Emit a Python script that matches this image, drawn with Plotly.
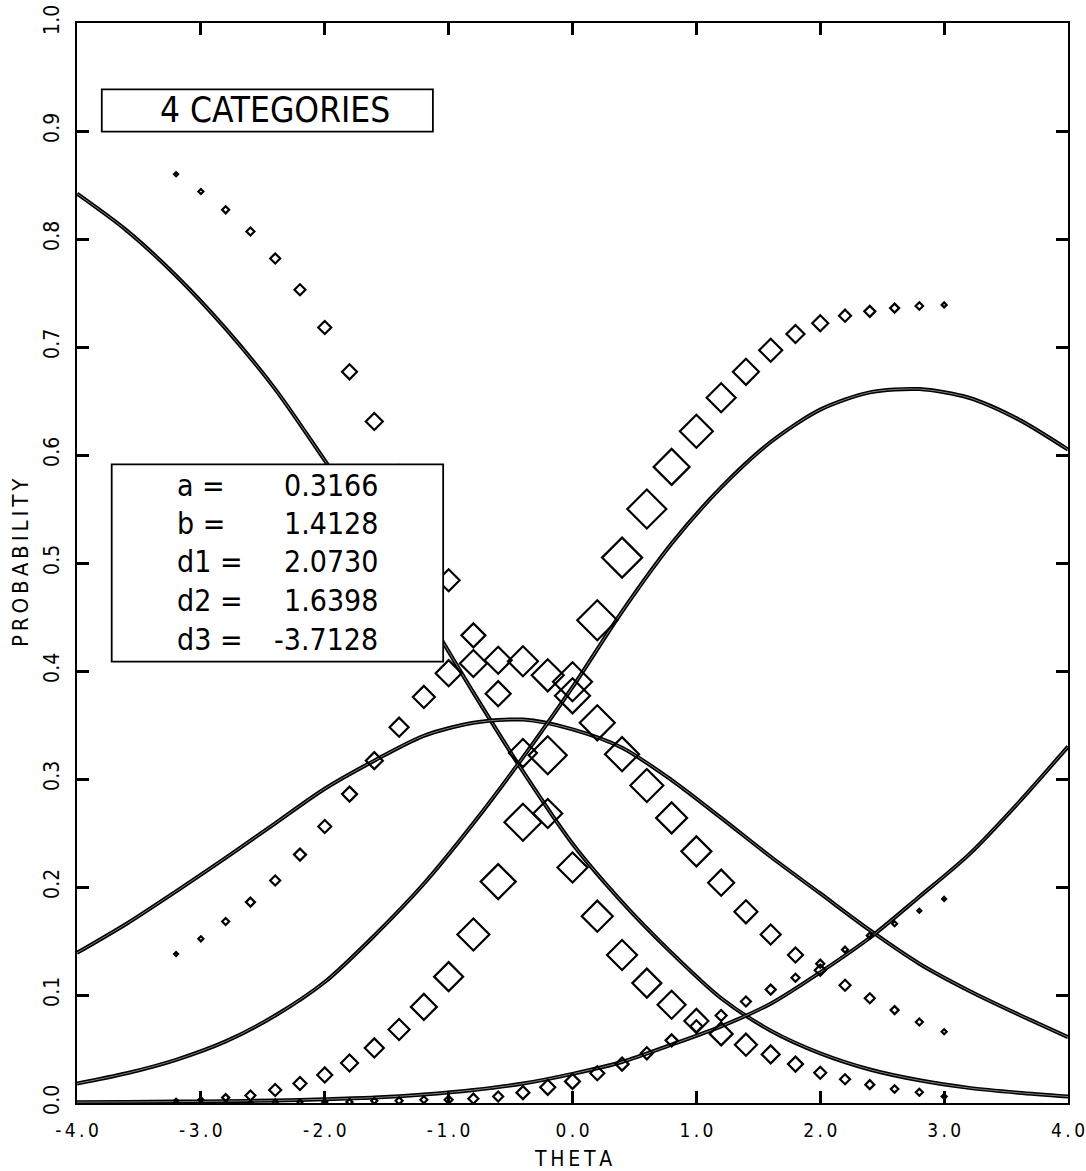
import plotly.graph_objects as go

# ---------------- data ----------------
THETA_CURVE = [-4.0, -3.6, -3.2, -2.8, -2.4, -2.0, -1.6, -1.2, -0.8, -0.4, 0.0,
               0.4, 0.8, 1.2, 1.6, 2.0, 2.4, 2.8, 3.2, 3.6, 4.0]
CURVE_CAT1 = [0.842, 0.808, 0.766, 0.717, 0.661, 0.595, 0.528, 0.456, 0.380, 0.307, 0.240,
              0.186, 0.139, 0.097, 0.067, 0.046, 0.031, 0.021, 0.014, 0.0095, 0.006]
CURVE_CAT2 = [0.139, 0.166, 0.196, 0.227, 0.259, 0.291, 0.317, 0.340, 0.352, 0.355, 0.346,
              0.329, 0.299, 0.264, 0.228, 0.194, 0.160, 0.129, 0.104, 0.082, 0.061]
CURVE_CAT3 = [0.018, 0.0275, 0.040, 0.057, 0.081, 0.112, 0.155, 0.203, 0.259, 0.320, 0.385,
              0.455, 0.518, 0.570, 0.612, 0.642, 0.658, 0.661, 0.653, 0.633, 0.605]
CURVE_CAT4 = [0.0008, 0.001, 0.0013, 0.0017, 0.0023, 0.0035, 0.005, 0.0078, 0.012, 0.018, 0.027,
              0.038, 0.054, 0.071, 0.092, 0.121, 0.153, 0.191, 0.230, 0.278, 0.330]

THETA_OBS = [-3.2, -3.0, -2.8, -2.6, -2.4, -2.2, -2.0, -1.8, -1.6, -1.4, -1.2, -1.0,
             -0.8, -0.6, -0.4, -0.2, 0.0, 0.2, 0.4, 0.6, 0.8, 1.0, 1.2, 1.4,
             1.6, 1.8, 2.0, 2.2, 2.4, 2.6, 2.8, 3.0]
OBS_CAT1 = [0.860, 0.844, 0.827, 0.807, 0.782, 0.753, 0.718, 0.677, 0.631, 0.582, 0.533, 0.484,
            0.433, 0.379, 0.324, 0.268, 0.218, 0.173, 0.137, 0.111, 0.091, 0.076, 0.064, 0.054,
            0.045, 0.036, 0.028, 0.022, 0.017, 0.013, 0.010, 0.006]
OBS_CAT2 = [0.138, 0.152, 0.168, 0.186, 0.206, 0.230, 0.256, 0.286, 0.317, 0.348, 0.376, 0.398,
            0.407, 0.410, 0.409, 0.396, 0.377, 0.352, 0.323, 0.294, 0.264, 0.233, 0.204, 0.177,
            0.156, 0.137, 0.123, 0.109, 0.097, 0.086, 0.075, 0.066]
OBS_CAT3 = [0.002, 0.003, 0.005, 0.007, 0.012, 0.018, 0.026, 0.037, 0.051, 0.068, 0.089, 0.117,
            0.156, 0.205, 0.260, 0.322, 0.390, 0.447, 0.505, 0.550, 0.589, 0.622, 0.653, 0.677,
            0.697, 0.712, 0.722, 0.729, 0.733, 0.736, 0.738, 0.739]
OBS_CAT4 = [0.000, 0.000, 0.000, 0.000, 0.001, 0.001, 0.001, 0.001, 0.002, 0.002, 0.003, 0.003,
            0.004, 0.006, 0.0096, 0.0145, 0.020, 0.0275, 0.036, 0.046, 0.058, 0.071, 0.081, 0.094,
            0.105, 0.116, 0.129, 0.142, 0.155, 0.166, 0.178, 0.189]

# apparent marker widths (px) per observed point
WIDTH_CAT1 = [4, 5, 7, 8, 10, 11, 13, 15, 17, 19, 21, 22, 24, 25, 28, 29, 30, 31, 30, 29, 28, 24,
              23, 22, 18, 15, 12, 10, 9, 7.5, 7, 5]
WIDTH_CAT2 = [4, 5, 7, 9, 10, 12, 13, 15, 17, 19, 22, 26, 27, 27, 30, 32, 35, 35, 34, 33, 31, 30,
              26, 23, 20, 15, 11, 11, 10, 8, 7, 5]
WIDTH_CAT3 = [4, 5, 7, 10, 12, 13, 15, 17, 19, 21, 26, 29, 32, 35, 37, 38, 39, 40, 40, 39, 36, 33,
              29, 26, 23, 18, 16, 12, 11, 9, 7.5, 5]
WIDTH_CAT4 = [4, 4, 4, 5, 5, 5, 5, 6, 6, 7, 7, 8, 10, 10, 13, 15, 15, 14, 13, 12, 12, 12,
              11, 10, 10, 8, 8, 6, 6, 5, 4, 4]

X_TICKS = [-4, -3, -2, -1, 0, 1, 2, 3, 4]
X_TICK_LABELS = ["-4.0", "-3.0", "-2.0", "-1.0", "0.0", "1.0", "2.0", "3.0", "4.0"]
Y_TICKS = [0.0, 0.1, 0.2, 0.3, 0.4, 0.5, 0.6, 0.7, 0.8, 0.9, 1.0]
Y_TICK_LABELS = ["0.0", "0.1", "0.2", "0.3", "0.4", "0.5", "0.6", "0.7", "0.8", "0.9", "1.0"]

TITLE_BOX_TEXT = "4 CATEGORIES"
PARAM_NAMES = ["a =", "b =", "d1 =", "d2 =", "d3 ="]
PARAM_VALUES = ["0.3166", "1.4128", "2.0730", "1.6398", "-3.7128"]

X_TITLE = "THETA"
Y_TITLE = "PROBABILITY"

# ---------------- figure ----------------
FONT = "Liberation Sans Narrow, DejaVu Sans Condensed, Arial Narrow, Roboto, sans-serif"
THIN = "\u2009"

fig = go.Figure()

for curve in (CURVE_CAT1, CURVE_CAT2, CURVE_CAT3, CURVE_CAT4):
    fig.add_trace(go.Scatter(x=THETA_CURVE, y=curve, mode="lines",
                             line=dict(color="black", width=4.0, shape="spline", smoothing=0.8),
                             hoverinfo="skip", showlegend=False))
    fig.add_trace(go.Scatter(x=THETA_CURVE, y=curve, mode="lines",
                             line=dict(color="rgba(255,255,255,0.5)", width=1.0,
                                       shape="spline", smoothing=0.8),
                             hoverinfo="skip", showlegend=False))

for obs, widths in ((OBS_CAT1, WIDTH_CAT1), (OBS_CAT2, WIDTH_CAT2),
                    (OBS_CAT3, WIDTH_CAT3), (OBS_CAT4, WIDTH_CAT4)):
    fig.add_trace(go.Scatter(x=THETA_OBS, y=obs, mode="markers",
                             marker=dict(symbol="diamond-open", color="black", opacity=1,
                                         size=[w / 1.3 for w in widths],
                                         line=dict(color="black", width=2.2)),
                             showlegend=False))

# boxes
fig.add_shape(type="rect", xref="x", yref="y", x0=-3.80, x1=-1.127, y0=0.8995, y1=0.9386,
              line=dict(color="black", width=1.8), fillcolor="white", layer="above")
fig.add_shape(type="rect", xref="x", yref="y", x0=-3.72, x1=-1.044, y0=0.4086, y1=0.5914,
              line=dict(color="black", width=1.8), fillcolor="white", layer="above")

fig.add_annotation(x=-2.40, y=0.919, xref="x", yref="y", text=TITLE_BOX_TEXT, showarrow=False,
                   xanchor="center", yanchor="middle",
                   font=dict(family=FONT, size=35, color="black"))

row_y = [0.572, 0.537, 0.501, 0.465, 0.429]
for name, val, yy in zip(PARAM_NAMES, PARAM_VALUES, row_y):
    fig.add_annotation(x=-3.209, y=yy, xref="x", yref="y", text=name, showarrow=False,
                       xanchor="left", yanchor="middle",
                       font=dict(family=FONT, size=30, color="black"))
    fig.add_annotation(x=-1.557, y=yy, xref="x", yref="y", text=val, showarrow=False,
                       xanchor="right", yanchor="middle",
                       font=dict(family=FONT, size=30, color="black"))

# axis titles
fig.add_annotation(x=0.5005, y=-0.052, xref="paper", yref="paper", text=THIN.join(X_TITLE),
                   showarrow=False, xanchor="center", yanchor="middle",
                   font=dict(family=FONT, size=21, color="black"))
fig.add_annotation(x=-0.0575, y=0.5, xref="paper", yref="paper", text=THIN.join(Y_TITLE),
                   showarrow=False, xanchor="center", yanchor="middle", textangle=-90,
                   font=dict(family=FONT, size=22, color="black"))

spaced_x = [THIN.join(t) for t in X_TICK_LABELS]

fig.update_xaxes(range=[-4, 4], tickmode="array", tickvals=X_TICKS, ticktext=spaced_x,
                 ticks="inside", ticklen=12, tickwidth=2.5, tickcolor="black",
                 showline=True, linecolor="black", linewidth=2, mirror="ticks",
                 showgrid=False, zeroline=False, automargin=False, ticklabelstandoff=9,
                 tickfont=dict(family=FONT, size=19, color="black"))
fig.update_yaxes(range=[0, 1], tickmode="array", tickvals=Y_TICKS, ticktext=Y_TICK_LABELS,
                 ticks="inside", ticklen=12, tickwidth=2.5, tickcolor="black", tickangle=-90,
                 showline=True, linecolor="black", linewidth=2, mirror="ticks",
                 showgrid=False, zeroline=False, automargin=False, ticklabelstandoff=8,
                 tickfont=dict(family=FONT, size=21, color="black"))

fig.update_layout(width=1086, height=1171, margin=dict(l=77, r=18, t=23, b=68, pad=0),
                  paper_bgcolor="white", plot_bgcolor="white", showlegend=False)

fig.write_html("out.html")
